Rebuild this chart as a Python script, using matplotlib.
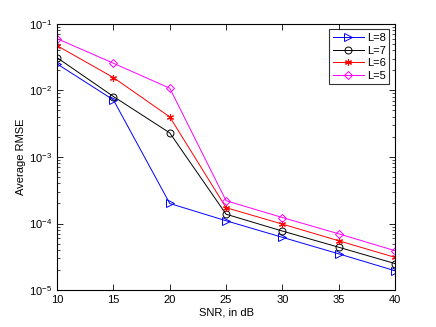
import matplotlib
matplotlib.use('Agg')
import matplotlib.pyplot as plt
from matplotlib.ticker import LogLocator, NullFormatter

plt.rcParams['font.family'] = ['Liberation Sans', 'DejaVu Sans']
plt.rcParams['mathtext.fontset'] = 'custom'
plt.rcParams['mathtext.rm'] = 'Liberation Sans'

# data
snr = [10, 15, 20, 25, 30, 35, 40]
rmse_L8 = [0.025, 0.0072, 2.0e-4, 1.1e-4, 6.2e-5, 3.5e-5, 1.95e-5]
rmse_L7 = [0.031, 0.0081, 0.0023, 1.38e-4, 7.7e-5, 4.4e-5, 2.5e-5]
rmse_L6 = [0.047, 0.0156, 0.0040, 1.73e-4, 9.8e-5, 5.5e-5, 3.1e-5]
rmse_L5 = [0.060, 0.0256, 0.0108, 2.2e-4, 1.23e-4, 7.0e-5, 3.9e-5]

fig = plt.figure(figsize=(4.36, 3.27), dpi=100)
ax = fig.add_axes([0.131, 0.113, 0.775, 0.814])

ax.semilogy(snr, rmse_L8, '->', color='#0000ff', mfc='none', ms=6, lw=0.7, mew=0.7, label='L=8')
ax.semilogy(snr, rmse_L7, '-o', color='#000000', mfc='none', ms=5, lw=0.7, mew=0.7, label='L=7')
ax.semilogy(snr, rmse_L6, '-', marker=(6, 2, 0), color='#ff0000', ms=5, lw=0.7, mew=0.8, label='L=6')
ax.semilogy(snr, rmse_L5, '-D', color='#ff00ff', mfc='none', ms=4.5, lw=0.7, mew=0.7, label='L=5')

ax.set_xlim(10, 40)
ax.set_ylim(1e-5, 1e-1)
ax.set_xticks([10, 15, 20, 25, 30, 35, 40])
ax.yaxis.set_major_locator(LogLocator(base=10, numticks=10))
ax.yaxis.set_minor_locator(LogLocator(base=10, subs=range(2, 10), numticks=10))
ax.yaxis.set_minor_formatter(NullFormatter())
ax.tick_params(which='both', direction='in', top=True, right=True, labelsize=8)
ax.tick_params(which='major', length=4, width=0.6)
ax.tick_params(which='minor', length=2, width=0.5)
for s in ax.spines.values():
    s.set_linewidth(0.8)

ax.set_xlabel('SNR, in dB', fontsize=8, labelpad=2)
ax.set_ylabel('Average RMSE', fontsize=8, labelpad=2)

leg = ax.legend(loc='upper right', fontsize=8, fancybox=False, edgecolor='black',
                handlelength=2.8, borderpad=0.3, labelspacing=0.25, handletextpad=0.3,
                borderaxespad=0.5)
leg.get_frame().set_linewidth(0.8)

fig.savefig('out.png', dpi=100)
